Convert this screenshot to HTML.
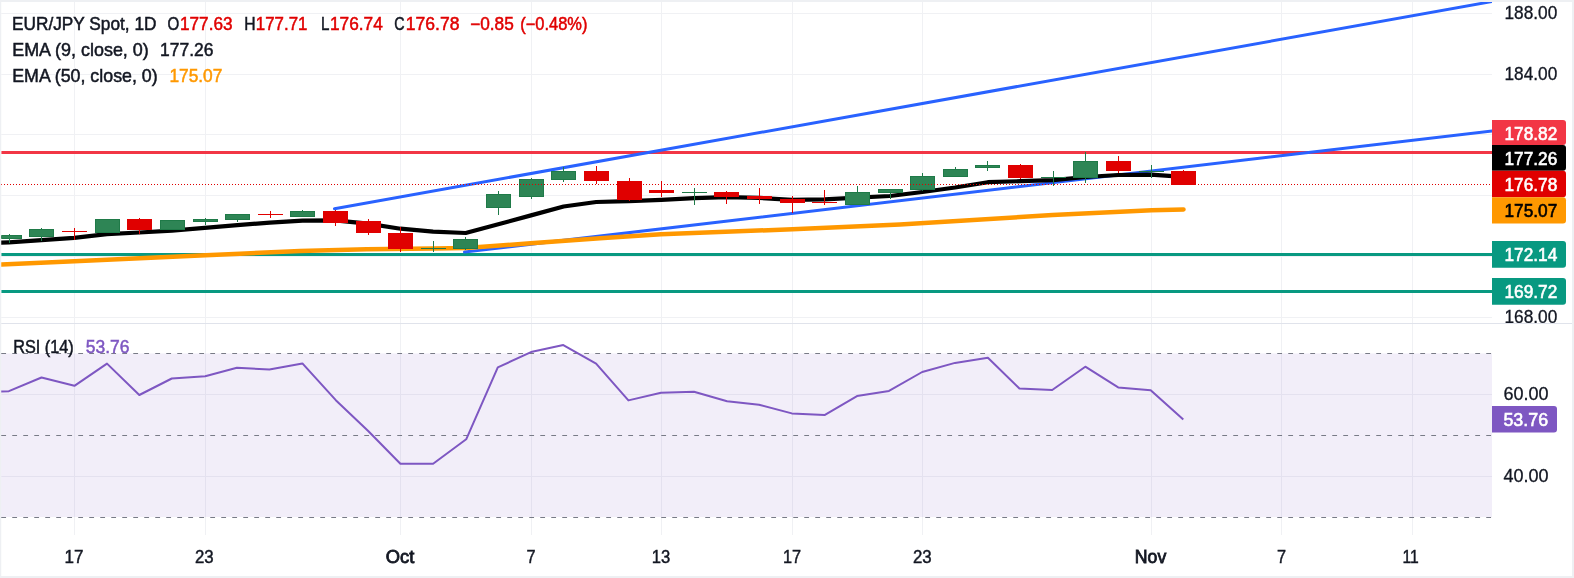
<!DOCTYPE html>
<html><head><meta charset="utf-8"><title>EUR/JPY</title>
<style>html,body{margin:0;padding:0;width:1574px;height:578px;overflow:hidden;background:#eef0f3;}
body{position:relative;font-family:"Liberation Sans",sans-serif;}</style></head>
<body>
<svg width="1574" height="578" viewBox="0 0 1574 578" style="position:absolute;left:0;top:0;will-change:transform">
<defs><clipPath id="cm"><rect x="1.25" y="2" width="1490.75" height="321"/></clipPath>
<clipPath id="cpa"><rect x="1492" y="2" width="80" height="321"/></clipPath>
<clipPath id="cr"><rect x="1.25" y="324" width="1490.75" height="211"/></clipPath></defs>
<rect x="0" y="0" width="1574" height="578" fill="#eef0f3"/>
<rect x="1.25" y="2" width="1570.75" height="574" fill="#ffffff"/>
<path d="M1.25 13.5H1492 M1.25 74.5H1492 M1.25 134.5H1492 M1.25 195.5H1492 M1.25 256.5H1492 M1.25 317.5H1492 M1.25 394.5H1492 M1.25 476.5H1492 M74.5 2V535 M205.5 2V535 M400.5 2V535 M531.5 2V535 M661.5 2V535 M792.5 2V535 M922.5 2V535 M1151.5 2V535 M1281.5 2V535 M1412.5 2V535" stroke="#f0f1f4" stroke-width="1" fill="none"/>
<path d="M1.25 323.5H1572" stroke="#e0e3eb" stroke-width="1"/>
<rect x="1.25" y="353.5" width="1490.75" height="163.5" fill="rgba(126,87,194,0.1)"/>
<path d="M1.25 353.5H1492" stroke="#787b86" stroke-width="1.2" stroke-dasharray="4.8 6.2" fill="none"/>
<path d="M1.25 435.5H1492" stroke="#787b86" stroke-width="1.2" stroke-dasharray="4.8 6.2" fill="none"/>
<path d="M1.25 517.5H1492" stroke="#787b86" stroke-width="1.2" stroke-dasharray="4.8 6.2" fill="none"/>
<polyline clip-path="url(#cr)" points="-25.0,392.5 8.9,391.2 41.5,377.5 74.4,385.8 107.0,363.6 139.3,395.0 171.8,378.5 205.2,376.3 236.9,367.7 269.4,369.5 302.4,363.4 335.8,400.2 368.2,431.0 400.4,463.7 433.1,463.7 466.2,439.3 497.8,367.4 531.0,352.1 563.3,345.1 596.1,363.7 628.4,400.4 661.0,392.8 694.0,391.8 727.1,401.3 759.0,404.7 791.8,413.4 824.5,415.1 857.0,396.1 889.0,390.9 922.2,372.0 955.0,362.9 987.9,357.7 1019.4,388.5 1052.2,390.0 1085.3,366.7 1118.2,387.4 1150.7,390.2 1183.3,419.5" fill="none" stroke="#7e57c2" stroke-width="2" stroke-linejoin="round"/>
<g clip-path="url(#cm)">
<path d="M1.25 254.5H1492" stroke="#089981" stroke-width="3"/>
<path d="M1.25 291.5H1492" stroke="#089981" stroke-width="3"/>
<path d="M1.25 152.5H1492" stroke="#f23645" stroke-width="3"/>
<path d="M334.5 208.7L1500 0.1" stroke="#2962ff" stroke-width="3" stroke-linecap="round"/>
<path d="M464.5 252.0L1500 130.0" stroke="#2962ff" stroke-width="3" stroke-linecap="round"/>
<polyline points="-25.0,265.6 1.5,264.4 74.4,261.3 205.5,255.2 240.0,253.7 300.0,250.9 366.7,249.2 433.4,248.6 465.8,248.0 530.6,243.3 600.0,238.3 661.0,234.3 792.5,229.2 900.0,224.6 1052.5,215.0 1151.6,210.2 1183.5,209.4" fill="none" stroke="#ff9800" stroke-width="4.5" stroke-linejoin="round" stroke-linecap="round"/>
<polyline points="-25.0,244.0 8.9,242.3 41.5,240.2 74.1,237.9 106.8,234.2 139.4,232.5 172.0,230.6 204.6,227.9 237.3,225.1 269.9,222.7 302.5,220.6 335.2,220.4 367.8,223.6 400.4,228.7 433.1,231.6 465.7,233.0 498.3,224.2 531.0,215.4 563.6,206.5 596.2,202.0 628.8,201.2 661.5,199.9 694.1,198.2 726.7,197.2 759.4,197.9 792.0,199.8 824.6,199.3 857.3,197.6 889.9,196.0 922.5,192.0 955.1,187.5 987.8,182.2 1020.4,181.2 1053.0,180.1 1085.7,177.0 1118.3,175.0 1150.9,174.6 1183.5,176.8" fill="none" stroke="#000000" stroke-width="4.2" stroke-linejoin="round" stroke-linecap="round"/>
<g shape-rendering="crispEdges"><rect x="9" y="234" width="1" height="9" fill="#1f7a48"/><rect x="-3" y="235" width="25" height="4" fill="#1f7a48"/><rect x="-2" y="236" width="23" height="2" fill="#2e8555"/><rect x="41" y="228" width="1" height="13" fill="#1f7a48"/><rect x="29" y="229" width="25" height="8" fill="#1f7a48"/><rect x="30" y="230" width="23" height="6" fill="#2e8555"/><rect x="74" y="228" width="1" height="12" fill="#e00000"/><rect x="62" y="231" width="25" height="1" fill="#e00000"/><rect x="107" y="219" width="1" height="14" fill="#1f7a48"/><rect x="95" y="219" width="25" height="14" fill="#1f7a48"/><rect x="96" y="220" width="23" height="12" fill="#2e8555"/><rect x="139" y="218" width="1" height="16" fill="#e00000"/><rect x="127" y="219" width="25" height="11" fill="#e00000"/><rect x="172" y="220" width="1" height="10" fill="#1f7a48"/><rect x="160" y="220" width="25" height="10" fill="#1f7a48"/><rect x="161" y="221" width="23" height="8" fill="#2e8555"/><rect x="205" y="218" width="1" height="7" fill="#1f7a48"/><rect x="193" y="219" width="25" height="3" fill="#1f7a48"/><rect x="194" y="220" width="23" height="1" fill="#2e8555"/><rect x="237" y="214" width="1" height="8" fill="#1f7a48"/><rect x="225" y="214" width="25" height="6" fill="#1f7a48"/><rect x="226" y="215" width="23" height="4" fill="#2e8555"/><rect x="270" y="211" width="1" height="7" fill="#e00000"/><rect x="258" y="214" width="25" height="1" fill="#e00000"/><rect x="302" y="210" width="1" height="7" fill="#1f7a48"/><rect x="290" y="211" width="25" height="6" fill="#1f7a48"/><rect x="291" y="212" width="23" height="4" fill="#2e8555"/><rect x="335" y="210" width="1" height="16" fill="#e00000"/><rect x="323" y="211" width="25" height="12" fill="#e00000"/><rect x="368" y="219" width="1" height="16" fill="#e00000"/><rect x="356" y="221" width="25" height="12" fill="#e00000"/><rect x="400" y="227" width="1" height="25" fill="#e00000"/><rect x="388" y="233" width="25" height="16" fill="#e00000"/><rect x="433" y="241" width="1" height="11" fill="#1f7a48"/><rect x="421" y="248" width="25" height="1" fill="#1f7a48"/><rect x="465" y="237" width="1" height="13" fill="#1f7a48"/><rect x="453" y="239" width="25" height="10" fill="#1f7a48"/><rect x="454" y="240" width="23" height="8" fill="#2e8555"/><rect x="498" y="191" width="1" height="24" fill="#1f7a48"/><rect x="486" y="194" width="25" height="14" fill="#1f7a48"/><rect x="487" y="195" width="23" height="12" fill="#2e8555"/><rect x="531" y="178" width="1" height="21" fill="#1f7a48"/><rect x="519" y="179" width="25" height="18" fill="#1f7a48"/><rect x="520" y="180" width="23" height="16" fill="#2e8555"/><rect x="563" y="167" width="1" height="15" fill="#1f7a48"/><rect x="551" y="171" width="25" height="9" fill="#1f7a48"/><rect x="552" y="172" width="23" height="7" fill="#2e8555"/><rect x="596" y="166" width="1" height="18" fill="#e00000"/><rect x="584" y="171" width="25" height="10" fill="#e00000"/><rect x="629" y="178" width="1" height="23" fill="#e00000"/><rect x="617" y="181" width="25" height="19" fill="#e00000"/><rect x="661" y="181" width="1" height="16" fill="#e00000"/><rect x="649" y="190" width="25" height="3" fill="#e00000"/><rect x="694" y="188" width="1" height="17" fill="#1f7a48"/><rect x="682" y="192" width="25" height="1" fill="#1f7a48"/><rect x="726" y="191" width="1" height="13" fill="#e00000"/><rect x="714" y="192" width="25" height="5" fill="#e00000"/><rect x="759" y="188" width="1" height="16" fill="#e00000"/><rect x="747" y="196" width="25" height="3" fill="#e00000"/><rect x="792" y="196" width="1" height="17" fill="#e00000"/><rect x="780" y="199" width="25" height="4" fill="#e00000"/><rect x="824" y="190" width="1" height="15" fill="#e00000"/><rect x="812" y="202" width="25" height="1" fill="#e00000"/><rect x="857" y="186" width="1" height="19" fill="#1f7a48"/><rect x="845" y="192" width="25" height="13" fill="#1f7a48"/><rect x="846" y="193" width="23" height="11" fill="#2e8555"/><rect x="890" y="189" width="1" height="10" fill="#1f7a48"/><rect x="878" y="189" width="25" height="4" fill="#1f7a48"/><rect x="879" y="190" width="23" height="2" fill="#2e8555"/><rect x="922" y="173" width="1" height="18" fill="#1f7a48"/><rect x="910" y="176" width="25" height="14" fill="#1f7a48"/><rect x="911" y="177" width="23" height="12" fill="#2e8555"/><rect x="955" y="167" width="1" height="10" fill="#1f7a48"/><rect x="943" y="169" width="25" height="8" fill="#1f7a48"/><rect x="944" y="170" width="23" height="6" fill="#2e8555"/><rect x="987" y="161" width="1" height="10" fill="#1f7a48"/><rect x="975" y="165" width="25" height="3" fill="#1f7a48"/><rect x="976" y="166" width="23" height="1" fill="#2e8555"/><rect x="1020" y="164" width="1" height="15" fill="#e00000"/><rect x="1008" y="165" width="25" height="13" fill="#e00000"/><rect x="1053" y="171" width="1" height="15" fill="#1f7a48"/><rect x="1041" y="177" width="25" height="1" fill="#1f7a48"/><rect x="1085" y="152" width="1" height="31" fill="#1f7a48"/><rect x="1073" y="161" width="25" height="17" fill="#1f7a48"/><rect x="1074" y="162" width="23" height="15" fill="#2e8555"/><rect x="1118" y="156" width="1" height="17" fill="#e00000"/><rect x="1106" y="161" width="25" height="10" fill="#e00000"/><rect x="1151" y="165" width="1" height="13" fill="#1f7a48"/><rect x="1139" y="171" width="25" height="1" fill="#1f7a48"/><rect x="1183" y="170" width="1" height="15" fill="#e00000"/><rect x="1171" y="171" width="25" height="14" fill="#e00000"/></g>
<path d="M1 184.5H1492" stroke="#e00000" stroke-width="1" stroke-dasharray="1 2" shape-rendering="crispEdges"/>
</g>
<rect x="1492" y="2" width="80" height="321" fill="#ffffff"/>
<rect x="1492" y="324" width="80" height="211" fill="#ffffff"/>
<text x="1504.43" y="18.9" font-family="Liberation Sans, sans-serif" font-size="18" font-weight="normal" fill="#131722" stroke="#131722" stroke-width="0.3" textLength="52.83" lengthAdjust="spacingAndGlyphs">188.00</text>
<text x="1504.43" y="80.0" font-family="Liberation Sans, sans-serif" font-size="18" font-weight="normal" fill="#131722" stroke="#131722" stroke-width="0.3" textLength="52.83" lengthAdjust="spacingAndGlyphs">184.00</text>
<g clip-path="url(#cpa)"><text x="1504.43" y="323.1" font-family="Liberation Sans, sans-serif" font-size="18" font-weight="normal" fill="#131722" stroke="#131722" stroke-width="0.3" textLength="52.83" lengthAdjust="spacingAndGlyphs">168.00</text></g>
<text x="1503.40" y="399.7" font-family="Liberation Sans, sans-serif" font-size="18" font-weight="normal" fill="#131722" stroke="#131722" stroke-width="0.3" textLength="45.05" lengthAdjust="spacingAndGlyphs">60.00</text>
<text x="1503.40" y="482.0" font-family="Liberation Sans, sans-serif" font-size="18" font-weight="normal" fill="#131722" stroke="#131722" stroke-width="0.3" textLength="45.05" lengthAdjust="spacingAndGlyphs">40.00</text>
<path d="M1492 120.1H1563Q1566 120.1 1566 123.1V142.0Q1566 145.0 1563 145.0H1492Z" fill="#f23645"/><text x="1504.43" y="139.55" font-family="Liberation Sans, sans-serif" font-size="18" font-weight="normal" fill="#ffffff" stroke="#ffffff" stroke-width="0.6" textLength="52.83" lengthAdjust="spacingAndGlyphs">178.82</text>
<path d="M1492 145.0H1563Q1566 145.0 1566 148.0V167.8Q1566 170.8 1563 170.8H1492Z" fill="#000000"/><text x="1504.43" y="164.9" font-family="Liberation Sans, sans-serif" font-size="18" font-weight="normal" fill="#ffffff" stroke="#ffffff" stroke-width="0.6" textLength="52.83" lengthAdjust="spacingAndGlyphs">177.26</text>
<path d="M1492 170.8H1563Q1566 170.8 1566 173.8V194.2Q1566 197.2 1563 197.2H1492Z" fill="#e00000"/><text x="1504.43" y="191.0" font-family="Liberation Sans, sans-serif" font-size="18" font-weight="normal" fill="#ffffff" stroke="#ffffff" stroke-width="0.6" textLength="52.83" lengthAdjust="spacingAndGlyphs">176.78</text>
<path d="M1492 197.2H1563Q1566 197.2 1566 200.2V220.4Q1566 223.4 1563 223.4H1492Z" fill="#ff9800"/><text x="1504.43" y="217.3" font-family="Liberation Sans, sans-serif" font-size="18" font-weight="normal" fill="#000000" stroke="#000000" stroke-width="0.6" textLength="52.83" lengthAdjust="spacingAndGlyphs">175.07</text>
<path d="M1492 241.1H1563Q1566 241.1 1566 244.1V264.8Q1566 267.8 1563 267.8H1492Z" fill="#089981"/><text x="1504.43" y="261.45" font-family="Liberation Sans, sans-serif" font-size="18" font-weight="normal" fill="#ffffff" stroke="#ffffff" stroke-width="0.6" textLength="52.83" lengthAdjust="spacingAndGlyphs">172.14</text>
<path d="M1492 278.0H1563Q1566 278.0 1566 281.0V301.8Q1566 304.8 1563 304.8H1492Z" fill="#089981"/><text x="1504.43" y="298.4" font-family="Liberation Sans, sans-serif" font-size="18" font-weight="normal" fill="#ffffff" stroke="#ffffff" stroke-width="0.6" textLength="52.83" lengthAdjust="spacingAndGlyphs">169.72</text>
<path d="M1492 406.0H1554Q1557 406.0 1557 409.0V429.6Q1557 432.6 1554 432.6H1492Z" fill="#7e57c2"/><text x="1503.40" y="426.3" font-family="Liberation Sans, sans-serif" font-size="18" font-weight="normal" fill="#ffffff" stroke="#ffffff" stroke-width="0.6" textLength="44.67" lengthAdjust="spacingAndGlyphs">53.76</text>
<text x="12.03" y="30" font-family="Liberation Sans, sans-serif" font-size="17.8" font-weight="normal" fill="#131722" stroke="#131722" stroke-width="0.5" textLength="144.46" lengthAdjust="spacingAndGlyphs">EUR/JPY Spot, 1D</text>
<text x="167.4" y="30" font-family="Liberation Sans, sans-serif" font-size="17.8" font-weight="normal" fill="#131722" stroke="#131722" stroke-width="0.5" textLength="11.77" lengthAdjust="spacingAndGlyphs">O</text>
<text x="180.03" y="30" font-family="Liberation Sans, sans-serif" font-size="17.8" font-weight="normal" fill="#e00000" stroke="#e00000" stroke-width="0.5" textLength="52.55" lengthAdjust="spacingAndGlyphs">177.63</text>
<text x="244.3" y="30" font-family="Liberation Sans, sans-serif" font-size="17.8" font-weight="normal" fill="#131722" stroke="#131722" stroke-width="0.5" textLength="11.32" lengthAdjust="spacingAndGlyphs">H</text>
<text x="255.86" y="30" font-family="Liberation Sans, sans-serif" font-size="17.8" font-weight="normal" fill="#e00000" stroke="#e00000" stroke-width="0.5" textLength="51.54" lengthAdjust="spacingAndGlyphs">177.71</text>
<text x="320.98" y="30" font-family="Liberation Sans, sans-serif" font-size="17.8" font-weight="normal" fill="#131722" stroke="#131722" stroke-width="0.5" textLength="8.4" lengthAdjust="spacingAndGlyphs">L</text>
<text x="330.02" y="30" font-family="Liberation Sans, sans-serif" font-size="17.8" font-weight="normal" fill="#e00000" stroke="#e00000" stroke-width="0.5" textLength="52.76" lengthAdjust="spacingAndGlyphs">176.74</text>
<text x="394.36" y="30" font-family="Liberation Sans, sans-serif" font-size="17.8" font-weight="normal" fill="#131722" stroke="#131722" stroke-width="0.5" textLength="10.32" lengthAdjust="spacingAndGlyphs">C</text>
<text x="405.81" y="30" font-family="Liberation Sans, sans-serif" font-size="17.8" font-weight="normal" fill="#e00000" stroke="#e00000" stroke-width="0.5" textLength="53.58" lengthAdjust="spacingAndGlyphs">176.78</text>
<text x="470.21" y="30" font-family="Liberation Sans, sans-serif" font-size="17.8" font-weight="normal" fill="#e00000" stroke="#e00000" stroke-width="0.5" textLength="43.58" lengthAdjust="spacingAndGlyphs">−0.85</text>
<text x="520.26" y="30" font-family="Liberation Sans, sans-serif" font-size="17.8" font-weight="normal" fill="#e00000" stroke="#e00000" stroke-width="0.5" textLength="67.14" lengthAdjust="spacingAndGlyphs">(−0.48%)</text>
<text x="12.2" y="56" font-family="Liberation Sans, sans-serif" font-size="17.8" font-weight="normal" fill="#131722" stroke="#131722" stroke-width="0.5" textLength="136.62" lengthAdjust="spacingAndGlyphs">EMA (9, close, 0)</text>
<text x="160.03" y="56" font-family="Liberation Sans, sans-serif" font-size="17.8" font-weight="normal" fill="#131722" stroke="#131722" stroke-width="0.5" textLength="53.38" lengthAdjust="spacingAndGlyphs">177.26</text>
<text x="12.2" y="81.7" font-family="Liberation Sans, sans-serif" font-size="17.8" font-weight="normal" fill="#131722" stroke="#131722" stroke-width="0.5" textLength="145.48" lengthAdjust="spacingAndGlyphs">EMA (50, close, 0)</text>
<text x="169.42" y="81.7" font-family="Liberation Sans, sans-serif" font-size="17.8" font-weight="normal" fill="#ff9800" stroke="#ff9800" stroke-width="0.5" textLength="52.96" lengthAdjust="spacingAndGlyphs">175.07</text>
<text x="13.27" y="352.9" font-family="Liberation Sans, sans-serif" font-size="17.8" font-weight="normal" fill="#131722" stroke="#131722" stroke-width="0.5" textLength="60.44" lengthAdjust="spacingAndGlyphs">RSI (14)</text>
<text x="85.82" y="352.9" font-family="Liberation Sans, sans-serif" font-size="17.8" font-weight="normal" fill="#7e57c2" stroke="#7e57c2" stroke-width="0.5" textLength="43.69" lengthAdjust="spacingAndGlyphs">53.76</text>
<text x="64.61" y="562.9" font-family="Liberation Sans, sans-serif" font-size="17.8" font-weight="normal" fill="#131722" stroke="#131722" stroke-width="0.45" textLength="18.97" lengthAdjust="spacingAndGlyphs">17</text>
<text x="195.03" y="562.9" font-family="Liberation Sans, sans-serif" font-size="17.8" font-weight="normal" fill="#131722" stroke="#131722" stroke-width="0.45" textLength="18.71" lengthAdjust="spacingAndGlyphs">23</text>
<text x="385.8" y="562.9" font-family="Liberation Sans, sans-serif" font-size="17.8" font-weight="normal" fill="#131722" stroke="#131722" stroke-width="0.8" textLength="28.47" lengthAdjust="spacingAndGlyphs">Oct</text>
<text x="526.56" y="562.9" font-family="Liberation Sans, sans-serif" font-size="17.8" font-weight="normal" fill="#131722" stroke="#131722" stroke-width="0.45" textLength="9.05" lengthAdjust="spacingAndGlyphs">7</text>
<text x="651.87" y="562.9" font-family="Liberation Sans, sans-serif" font-size="17.8" font-weight="normal" fill="#131722" stroke="#131722" stroke-width="0.45" textLength="18.48" lengthAdjust="spacingAndGlyphs">13</text>
<text x="783.02" y="562.9" font-family="Liberation Sans, sans-serif" font-size="17.8" font-weight="normal" fill="#131722" stroke="#131722" stroke-width="0.45" textLength="18.14" lengthAdjust="spacingAndGlyphs">17</text>
<text x="913.03" y="562.9" font-family="Liberation Sans, sans-serif" font-size="17.8" font-weight="normal" fill="#131722" stroke="#131722" stroke-width="0.45" textLength="18.71" lengthAdjust="spacingAndGlyphs">23</text>
<text x="1134.81" y="562.9" font-family="Liberation Sans, sans-serif" font-size="17.8" font-weight="normal" fill="#131722" stroke="#131722" stroke-width="0.8" textLength="31.47" lengthAdjust="spacingAndGlyphs">Nov</text>
<text x="1276.96" y="562.9" font-family="Liberation Sans, sans-serif" font-size="17.8" font-weight="normal" fill="#131722" stroke="#131722" stroke-width="0.45" textLength="9.05" lengthAdjust="spacingAndGlyphs">7</text>
<text x="1402.52" y="562.9" font-family="Liberation Sans, sans-serif" font-size="17.8" font-weight="normal" fill="#131722" stroke="#131722" stroke-width="0.45" textLength="16.3" lengthAdjust="spacingAndGlyphs">11</text>
</svg>
</body></html>
